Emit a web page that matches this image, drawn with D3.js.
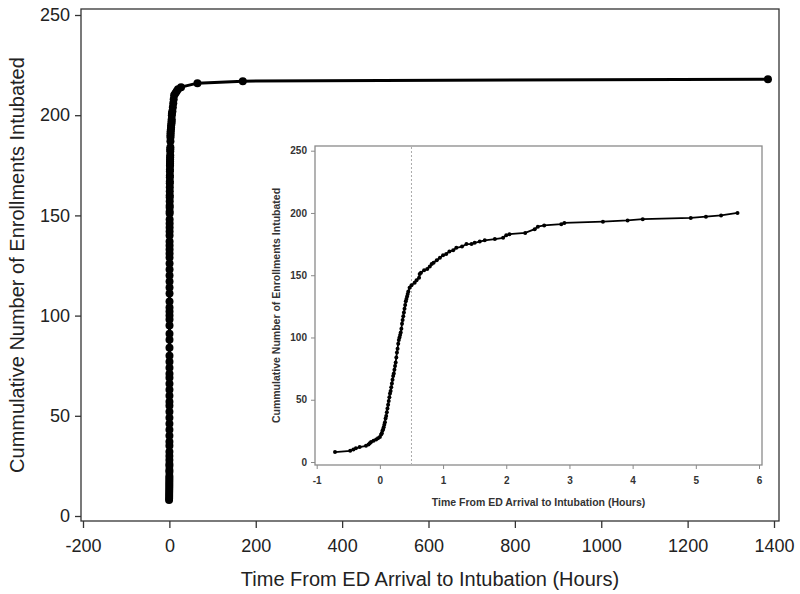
<!DOCTYPE html>
<html>
<head>
<meta charset="utf-8">
<script src="https://cdn.jsdelivr.net/npm/d3@7/dist/d3.min.js"></script>
<style>
  html, body { margin: 0; padding: 0; background: #fff; }
  svg { display: block; font-family: "Liberation Sans", Arial, sans-serif; }
</style>
</head>
<body>
<svg id="chart" width="800" height="594"></svg>
<script>
// ---- Data ----
// Inset: hours from ED arrival to intubation, cumulative enrollments intubated
const insetHours = [-0.71,-0.47,-0.42,-0.38,-0.32,-0.22,-0.18,-0.16,-0.14,-0.10,-0.06,-0.03,0.00,0.02,0.03,0.04,0.05,0.06,0.07,0.08,0.09,0.10,0.11,0.12,0.13,0.14,0.15,0.16,0.17,0.18,0.19,0.20,0.21,0.22,0.23,0.24,0.25,0.26,0.27,0.28,0.29,0.30,0.31,0.32,0.33,0.34,0.35,0.36,0.37,0.38,0.39,0.40,0.41,0.42,0.43,0.44,0.45,0.47,0.50,0.55,0.58,0.62,0.63,0.65,0.70,0.75,0.79,0.82,0.85,0.90,0.95,1.00,1.05,1.10,1.16,1.21,1.30,1.37,1.45,1.50,1.58,1.66,1.82,1.95,2.00,2.05,2.30,2.45,2.50,2.60,2.87,2.92,3.53,3.92,4.16,4.92,5.16,5.40,5.66];
const insetCounts = [8,9,10,11,12,13,14,15,16,17,18,19,20,22,23,25,26,28,30,32,35,37,40,43,46,49,52,55,57,60,63,66,69,71,74,77,80,84,88,91,95,98,100,102,104,107,111,114,117,120,123,126,129,131,133,135,137,140,142,144,146,148,151,152,154,155,157,159,160,162,164,166,167,169,170,172,173,175,175,176,177,178,179,180,182,183,184,187,189,190,191,192,193,194,195,196,197,198,200];
// Main chart: remaining enrollments beyond 6 hours
const tailHours  = [6, 7, 8, 9, 10, 11, 14, 17, 20, 27, 65, 170, 1386];
const tailCounts = [201, 202, 204, 206, 208, 210, 211, 212, 213, 214, 216, 217, 218];

const mainXTicks = [-200, 0, 200, 400, 600, 800, 1000, 1200, 1400];
const mainYTicks = [0, 50, 100, 150, 200, 250];
const insetXTicks = [-1, 0, 1, 2, 3, 4, 5, 6];
const insetYTicks = [0, 50, 100, 150, 200, 250];
const refLineHours = [0.5];

const xTitle = "Time From ED Arrival to Intubation (Hours)";
const yTitle = "Cummulative Number of Enrollments Intubated";

// ---- Build ----
const insetData = insetHours.map((h, i) => ({ h, n: insetCounts[i] }));
const mainData = insetData.concat(tailHours.map((h, i) => ({ h, n: tailCounts[i] })));
const fmt = d => String(d); // plain hyphen-minus as in the reference

const svg = d3.select("#chart");

// Main chart
const M = { left: 81, right: 779, top: 9, bottom: 521 };
const x = d3.scaleLinear().domain([-200, 1400]).range([83, 774]);
const y = d3.scaleLinear().domain([0, 250]).range([516, 15]);

svg.append("rect").attr("x", M.left).attr("y", M.top)
  .attr("width", M.right - M.left).attr("height", M.bottom - M.top)
  .attr("fill", "#fff").attr("stroke", "#333").attr("stroke-width", 1.3);

const gx = svg.append("g").attr("transform", `translate(0,${M.bottom})`)
  .call(d3.axisBottom(x).tickValues(mainXTicks).tickSize(7).tickPadding(11).tickFormat(fmt));
gx.select(".domain").remove();
gx.selectAll("line").attr("stroke", "#333").attr("stroke-width", 1.3);
gx.selectAll("text").attr("font-size", 18).attr("fill", "#222").attr("font-family", "Liberation Sans, Arial");

const gy = svg.append("g").attr("transform", `translate(${M.left},0)`)
  .call(d3.axisLeft(y).tickValues(mainYTicks).tickSize(6).tickPadding(5).tickFormat(fmt));
gy.select(".domain").remove();
gy.selectAll("line").attr("stroke", "#333").attr("stroke-width", 1.3);
gy.selectAll("text").attr("font-size", 18).attr("fill", "#222").attr("font-family", "Liberation Sans, Arial");

svg.append("text").attr("x", (M.left + M.right) / 2).attr("y", 586)
  .attr("text-anchor", "middle").attr("font-size", 20).attr("fill", "#222").text(xTitle);
svg.append("text").attr("transform", `translate(24,${(M.top + M.bottom) / 2}) rotate(-90)`)
  .attr("text-anchor", "middle").attr("font-size", 20).attr("fill", "#222").text(yTitle);

const mainLine = d3.line().x(d => x(d.h)).y(d => y(d.n));
svg.append("path").datum(mainData).attr("d", mainLine)
  .attr("fill", "none").attr("stroke", "#000").attr("stroke-width", 3);
svg.append("g").selectAll("circle").data(mainData).join("circle")
  .attr("cx", d => x(d.h)).attr("cy", d => y(d.n)).attr("r", 4).attr("fill", "#000");

// Inset chart
const I = { left: 315, right: 762, top: 146, bottom: 465 };
const xi = d3.scaleLinear().domain([-1, 6]).range([316.7, 759]);
const yi = d3.scaleLinear().domain([0, 250]).range([462, 150.7]);

svg.append("rect").attr("x", I.left).attr("y", I.top)
  .attr("width", I.right - I.left).attr("height", I.bottom - I.top)
  .attr("fill", "#fff").attr("stroke", "#8a8a8a").attr("stroke-width", 1.3);

svg.append("g").selectAll("line").data(refLineHours).join("line")
  .attr("x1", d => xi(d)).attr("x2", d => xi(d))
  .attr("y1", I.top + 1).attr("y2", I.bottom - 1)
  .attr("stroke", "#aaa").attr("stroke-width", 1).attr("stroke-dasharray", "2,2");

const gxi = svg.append("g").attr("transform", `translate(0,${I.bottom})`)
  .call(d3.axisBottom(xi).tickValues(insetXTicks).tickSize(4).tickPadding(8).tickFormat(fmt));
gxi.select(".domain").remove();
gxi.selectAll("line").attr("stroke", "#8a8a8a");
gxi.selectAll("text").attr("font-size", 10).attr("font-weight", "bold").attr("fill", "#333").attr("font-family", "Liberation Sans, Arial");

const gyi = svg.append("g").attr("transform", `translate(${I.left},0)`)
  .call(d3.axisLeft(yi).tickValues(insetYTicks).tickSize(4).tickPadding(4).tickFormat(fmt));
gyi.select(".domain").remove();
gyi.selectAll("line").attr("stroke", "#8a8a8a");
gyi.selectAll("text").attr("font-size", 10).attr("font-weight", "bold").attr("fill", "#333").attr("font-family", "Liberation Sans, Arial");

svg.append("text").attr("x", (I.left + I.right) / 2).attr("y", 506)
  .attr("text-anchor", "middle").attr("font-size", 10.5).attr("font-weight", "bold").attr("fill", "#333").text(xTitle);
svg.append("text").attr("transform", `translate(280,${(I.top + I.bottom) / 2}) rotate(-90)`)
  .attr("text-anchor", "middle").attr("font-size", 10.5).attr("font-weight", "bold").attr("fill", "#333").text(yTitle);

const insetLine = d3.line().x(d => xi(d.h)).y(d => yi(d.n));
svg.append("path").datum(insetData).attr("d", insetLine)
  .attr("fill", "none").attr("stroke", "#000").attr("stroke-width", 1.8);
svg.append("g").selectAll("circle").data(insetData).join("circle")
  .attr("cx", d => xi(d.h)).attr("cy", d => yi(d.n)).attr("r", 2).attr("fill", "#000");
</script>
</body>
</html>
